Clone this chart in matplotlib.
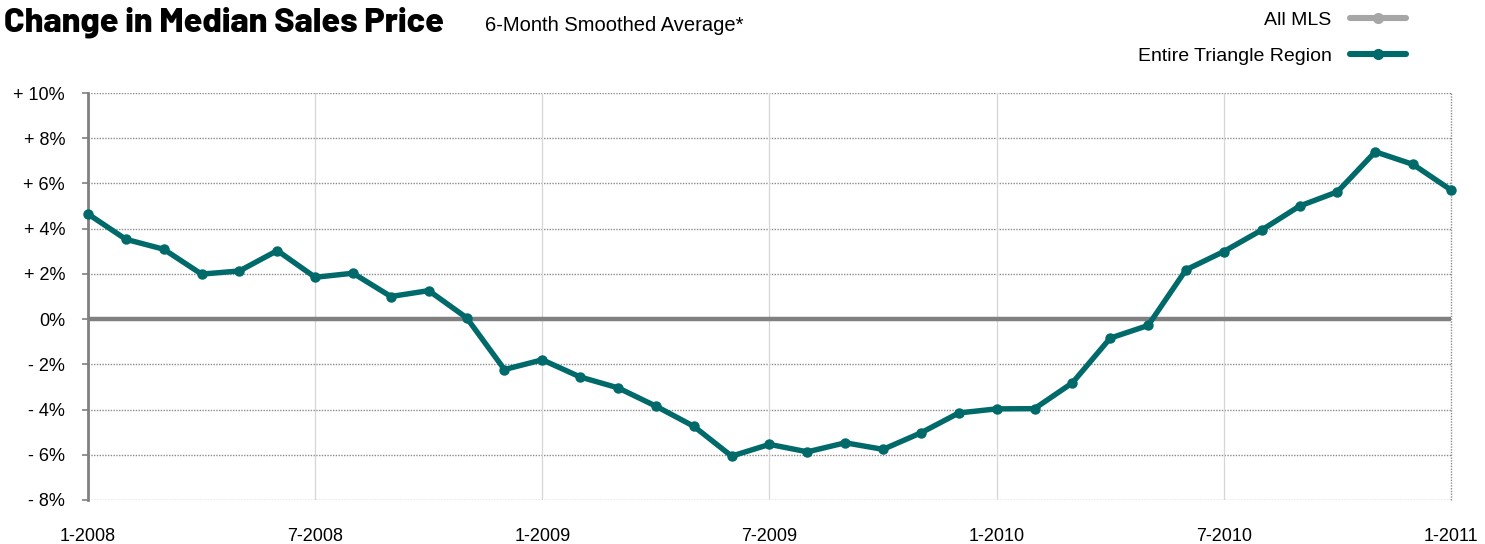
import matplotlib
matplotlib.use("Agg")
import matplotlib.pyplot as plt
from matplotlib.lines import Line2D

# ---- data ----
tick_labels = ["1-2008", "7-2008", "1-2009", "7-2009", "1-2010", "7-2010", "1-2011"]
y_ticks = [10, 8, 6, 4, 2, 0, -2, -4, -6, -8]
y_tick_labels = ["+ 10%", "+ 8%", "+ 6%", "+ 4%", "+ 2%", "0%", "- 2%", "- 4%", "- 6%", "- 8%"]
series_names = ["All MLS", "Entire Triangle Region"]
triangle = [4.65, 3.53, 3.09, 1.99, 2.13, 3.03, 1.85, 2.03, 1.00, 1.26,
            0.06, -2.23, -1.80, -2.56, -3.04, -3.85, -4.74, -6.06, -5.54, -5.87,
            -5.47, -5.76, -5.03, -4.15, -3.97, -3.96, -2.82, -0.84, -0.28, 2.18,
            2.99, 3.94, 5.00, 5.63, 7.40, 6.84, 5.71]
months = list(range(len(triangle)))

TEAL = "#006a6a"
GRAY = "#a6a6a6"
SANS = ["Liberation Sans", "DejaVu Sans"]

fig = plt.figure(figsize=(14.85, 5.44), dpi=100)
ax = fig.add_axes([88/1485, 1-500/544, (1451-88)/1485, (500-93)/544])

# grid lines
for yv in y_ticks:
    if yv != 0:
        ax.axhline(yv, color="#8c8c8c", lw=1.0, ls=(0, (1, 1)), zorder=1)
for xv in range(6, 36, 6):
    ax.axvline(xv, color="#d6d6d6", lw=0.9, zorder=1)
ax.axvline(36, color="#8c8c8c", lw=1.0, ls=(0, (1, 1)), zorder=1, clip_on=False)
ax.axhline(0, color="#808080", lw=3.2, zorder=2)

ax.plot(months, triangle, color=TEAL, lw=3.9, marker="o", ms=6.5,
        solid_joinstyle="round", solid_capstyle="round", zorder=3, clip_on=False)

ax.set_xlim(0, 36)
ax.set_ylim(-8, 10)
ax.set_xticks(range(0, 37, 6))
ax.set_xticklabels(tick_labels)
ax.set_yticks(y_ticks)
ax.set_yticklabels(y_tick_labels)

for s in ["top", "right", "bottom"]:
    ax.spines[s].set_visible(False)
ax.spines["left"].set_color("#808080")
ax.spines["left"].set_linewidth(2.0)

ax.tick_params(axis="y", length=4.5, width=1.2, color="#808080", pad=12,
               labelsize=13, labelcolor="black")
ax.tick_params(axis="x", length=0, pad=20, labelsize=13)
for lab in ax.get_xticklabels() + ax.get_yticklabels():
    lab.set_family(SANS)

# titles
fig.text(4/1485, 1-31/544, "Change in Median Sales Price",
         family=["Barlow", "Roboto Condensed", "DejaVu Sans"], fontweight=800,
         fontsize=24.5, ha="left", va="baseline")
fig.text(485/1485, 1-31/544, "6-Month Smoothed Average*",
         family=SANS, fontsize=14.5, ha="left", va="baseline")

# legend (All MLS has no visible line in the plot; proxy handle only)
handles = [Line2D([], [], color=GRAY, lw=4.4, marker="o", ms=7, solid_capstyle="round"),
           Line2D([], [], color=TEAL, lw=4.4, marker="o", ms=7, solid_capstyle="round")]
leg = fig.legend(handles, series_names,
                 loc="upper right", bbox_to_anchor=(1423/1485, 1+6/544),
                 frameon=False, markerfirst=False, handlelength=2.85,
                 handletextpad=0.95, labelspacing=0.95, numpoints=1,
                 prop={"family": SANS, "size": 14})

fig.savefig("out.png", dpi=100)
